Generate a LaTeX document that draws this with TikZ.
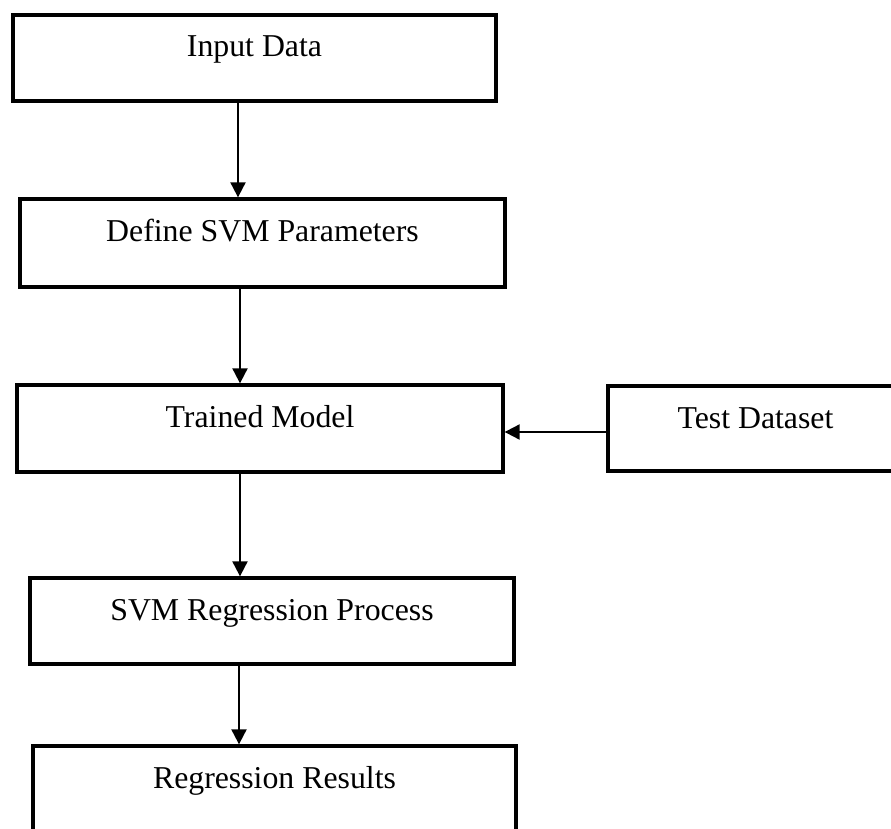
\documentclass[tikz,border=0pt]{standalone}
\usepackage{fontspec}
\setmainfont{Liberation Serif}
\usetikzlibrary{arrows.meta}
\begin{document}
\begin{tikzpicture}[x=1pt,y=-1pt,
  box/.style={draw=black, line width=3.3pt, fill=white, inner sep=0pt,
    font=\fontsize{31.8}{38}\selectfont, text height=42pt},
  arr/.style={line width=2pt, -{Triangle[width=15pt,length=15pt]}}]
\useasboundingbox (0,0) rectangle (891,829);
\node[box, minimum width=483pt, minimum height=86pt, text depth=44pt] (in) at (254.5,58) {Input Data};
\node[box, minimum width=485pt, minimum height=88pt, text depth=46pt] (def) at (262.5,243) {Define SVM Parameters};
\node[box, minimum width=486pt, minimum height=87pt, text depth=45pt] (trn) at (260,428.5) {Trained Model};
\node[box, minimum width=295pt, minimum height=85pt, text depth=43pt] (tst) at (755.5,428.5) {Test Dataset};
\node[box, minimum width=484pt, minimum height=86pt, text depth=44pt] (reg) at (272,621) {SVM Regression Process};
\node[box, minimum width=483pt, minimum height=88pt, text depth=46pt] (res) at (274.5,790) {Regression Results};
\draw[arr] (in.south -| 238,0) -- (def.north -| 238,0);
\draw[arr] (def.south -| 240,0) -- (trn.north -| 240,0);
\draw[arr] (trn.south -| 240,0) -- (reg.north -| 240,0);
\draw[arr] (reg.south -| 239,0) -- (res.north -| 239,0);
\draw[arr] (tst.west |- 0,432) -- (trn.east |- 0,432);
\end{tikzpicture}
\end{document}
